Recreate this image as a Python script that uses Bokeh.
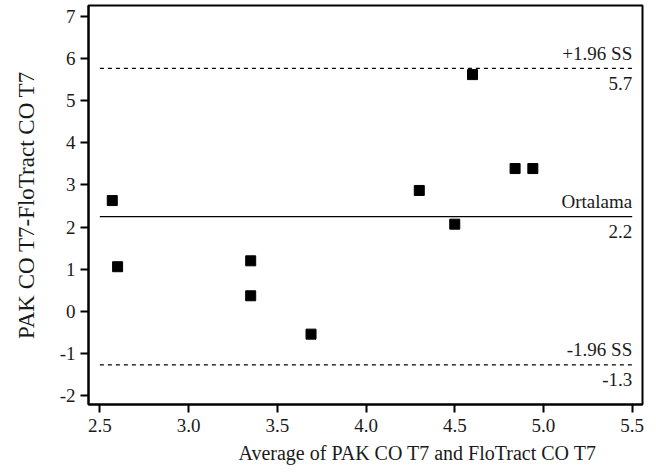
from bokeh.plotting import figure
from bokeh.models import Range1d, FixedTicker, NumeralTickFormatter, ColumnDataSource, Title
from bokeh.core.properties import value
from bokeh.embed import file_html
from bokeh.resources import INLINE

# Data
avg_values = [2.57, 2.60, 3.35, 3.35, 3.69, 4.30, 4.50, 4.60, 4.84, 4.94]
diff_values = [2.63, 1.06, 1.20, 0.37, -0.54, 2.87, 2.07, 5.62, 3.39, 3.39]
mean_diff = 2.25
upper_loa = 5.77
lower_loa = -1.27
line_names = ["+1.96 SS", "Ortalama", "-1.96 SS"]
line_value_labels = ["5.7", "2.2", "-1.3"]
x_ticks = [2.5, 3.0, 3.5, 4.0, 4.5, 5.0, 5.5]
y_ticks = [-2, -1, 0, 1, 2, 3, 4, 5, 6, 7]
x_line_start = 2.5
x_line_end = 5.5
x_title = "Average of PAK CO T7  and FloTract CO T7"
y_title = "PAK CO T7-FloTract CO T7"

FONT = "Liberation Serif"
TXT = "#1a1a1a"

p = figure(width=656, height=474, output_backend="svg", toolbar_location=None,
           x_range=Range1d(2.436, 5.558), y_range=Range1d(-2.21, 7.26),
           min_border_left=88, min_border_right=14, min_border_top=5, min_border_bottom=70)
p.background_fill_color = "white"
p.border_fill_color = "white"
p.outline_line_color = "black"
p.outline_line_width = 2
p.xgrid.visible = False
p.ygrid.visible = False

for ax in (p.xaxis[0], p.yaxis[0]):
    ax.axis_line_width = 2
    ax.axis_line_color = "black"
    ax.major_tick_line_width = 2
    ax.major_tick_line_color = "black"
    ax.major_tick_out = 8
    ax.major_tick_in = 0
    ax.minor_tick_line_color = None
    ax.major_label_text_font = FONT
    ax.major_label_text_font_size = "19px"
    ax.major_label_text_color = TXT
    ax.axis_label_text_font = FONT
    ax.axis_label_text_font_style = "normal"
    ax.axis_label_text_color = TXT

p.xaxis.ticker = FixedTicker(ticks=x_ticks)
p.yaxis.ticker = FixedTicker(ticks=y_ticks)
p.xaxis.formatter = NumeralTickFormatter(format="0.0")
p.yaxis.formatter = NumeralTickFormatter(format="0")
p.yaxis.axis_label = y_title
p.yaxis.axis_label_text_font_size = "23px"
p.xaxis.major_label_standoff = 6
p.yaxis.major_label_standoff = 5
p.yaxis.axis_label_standoff = 18

# x-axis title (placed off-centre, as in the reference)
xt = Title(text=x_title, align="left", offset=150, text_font=FONT, text_font_size="20px",
           text_font_style="normal", text_color=TXT, vertical_align="top", standoff=15)
p.add_layout(xt, "below")

# reference lines
p.segment(x0=[x_line_start], y0=[upper_loa], x1=[x_line_end], y1=[upper_loa],
          line_color="black", line_width=1.2, line_dash="4 4")
p.segment(x0=[x_line_start], y0=[lower_loa], x1=[x_line_end], y1=[lower_loa],
          line_color="black", line_width=1.2, line_dash="4 4")
p.segment(x0=[x_line_start], y0=[mean_diff], x1=[x_line_end], y1=[mean_diff],
          line_color="black", line_width=1.2)

lvl = [upper_loa, mean_diff, lower_loa]
src_names = ColumnDataSource(dict(x=[x_line_end] * 3, y=lvl, t=line_names))
src_vals = ColumnDataSource(dict(x=[x_line_end] * 3, y=lvl, t=line_value_labels))
p.text(x="x", y="y", text="t", source=src_names, text_align="right",
       text_baseline="alphabetic", y_offset=-15, text_font=value(FONT),
       text_font_size="19px", text_color=TXT)
p.text(x="x", y="y", text="t", source=src_vals, text_align="right",
       text_baseline="alphabetic", y_offset=15, text_font=value(FONT),
       text_font_size="19px", text_color=TXT)

p.scatter(avg_values, diff_values, marker="square", size=10,
          fill_color="black", line_color="black")

open("out.html", "w").write(file_html(p, INLINE))
